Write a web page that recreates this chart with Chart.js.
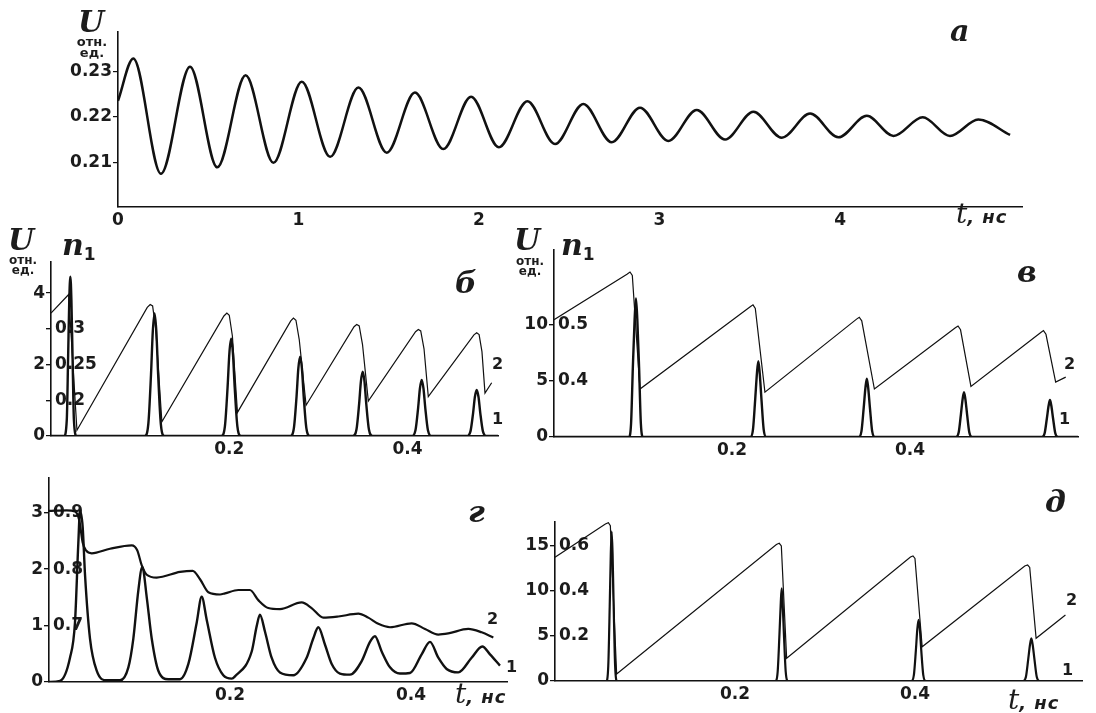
<!DOCTYPE html>
<html lang="ru">
<head>
<meta charset="UTF-8">
<title>U(t), n1(t)</title>
<script src="https://cdn.jsdelivr.net/npm/chart.js@4.4.1/dist/chart.umd.min.js"></script>
<style>
    body { margin: 0; width: 1096px; height: 713px; position: relative; overflow: hidden; background: #fff; color: #1c1c1c; }
    canvas { position: absolute; }
    .lbl { position: absolute; line-height: 1; white-space: nowrap; }
    .sym { font-family: "DejaVu Serif", serif; font-style: italic; font-weight: bold; font-size: 30px; }
    .letter { font-family: "DejaVu Serif", serif; font-style: italic; font-weight: bold; font-size: 30px; }
    .num { font-family: "DejaVu Sans", sans-serif; font-weight: bold; font-size: 16px; }
    .sub { font-family: "DejaVu Sans", sans-serif; font-weight: bold; font-size: 17px; position: relative; top: 5px; font-style: normal; }
    .unit { position: absolute; width: 44px; text-align: center; font: bold 12px "DejaVu Sans", sans-serif; line-height: 10px; }
    .tt { font-family: "DejaVu Serif", serif; font-style: italic; font-size: 28px; }
    .tu { font-family: "DejaVu Sans", sans-serif; font-style: italic; font-weight: bold; font-size: 18px; letter-spacing: 1px; }
</style>
</head>
<body>
<canvas id="chart-a"></canvas>
<canvas id="chart-b"></canvas>
<canvas id="chart-v"></canvas>
<canvas id="chart-g"></canvas>
<canvas id="chart-d"></canvas>

<!-- panel а -->
<div class="lbl sym" style="left:78px; top:7px;">U</div>
<div class="unit" style="left:70px; top:36px; font-size:13px; line-height:11px;">отн.<br>ед.</div>
<div class="lbl letter" style="left:950px; top:16px;">а</div>
<div class="lbl" style="left:956px; top:200px;"><span class="tt">t</span><span class="tu">, нс</span></div>

<!-- panel б -->
<div class="lbl sym" style="left:8px; top:225px;">U</div>
<div class="lbl sym" style="left:62px; top:230px;">n<span class="sub">1</span></div>
<div class="unit" style="left:1px; top:255px;">отн.<br>ед.</div>
<div class="lbl letter" style="left:455px; top:268px;">б</div>
<div class="lbl num" style="left:492px; top:356px;">2</div>
<div class="lbl num" style="left:492px; top:411px;">1</div>

<!-- panel в -->
<div class="lbl sym" style="left:514px; top:225px;">U</div>
<div class="lbl sym" style="left:561px; top:230px;">n<span class="sub">1</span></div>
<div class="unit" style="left:508px; top:256px;">отн.<br>ед.</div>
<div class="lbl letter" style="left:1017px; top:257px;">в</div>
<div class="lbl num" style="left:1064px; top:356px;">2</div>
<div class="lbl num" style="left:1059px; top:411px;">1</div>

<!-- panel г -->
<div class="lbl letter" style="left:468px; top:497px;">г</div>
<div class="lbl num" style="left:487px; top:611px;">2</div>
<div class="lbl num" style="left:506px; top:659px;">1</div>
<div class="lbl" style="left:455px; top:680px;"><span class="tt">t</span><span class="tu">, нс</span></div>

<!-- panel д -->
<div class="lbl letter" style="left:1045px; top:487px;">д</div>
<div class="lbl num" style="left:1066px; top:592px;">2</div>
<div class="lbl num" style="left:1062px; top:662px;">1</div>
<div class="lbl" style="left:1008px; top:686px;"><span class="tt">t</span><span class="tu">, нс</span></div>

<script>
    // ---- panel а: U(t), damped oscillation (peaks and troughs)
    const aT = [0, 0.085, 0.238, 0.399, 0.550, 0.707, 0.861, 1.018, 1.175, 1.332, 1.489, 1.645, 1.802, 1.956, 2.110, 2.268, 2.421,
                2.578, 2.735, 2.892, 3.049, 3.206, 3.363, 3.520, 3.677, 3.834, 3.991, 4.148, 4.296, 4.458, 4.609, 4.766, 4.942];
    const aU = [0.2235, 0.2328, 0.2075, 0.2310, 0.2089, 0.2291, 0.2099, 0.2277, 0.2112, 0.2264, 0.2121, 0.2253, 0.2129, 0.2244, 0.2133,
                0.2234, 0.2140, 0.2228, 0.2144, 0.2220, 0.2147, 0.2215, 0.2150, 0.2211, 0.2154, 0.2207, 0.2155, 0.2202, 0.2158, 0.2199,
                0.2158, 0.2194, 0.2160];
    const aXTicks = [0, 1, 2, 3, 4];
    const aXLabels = ['0', '1', '2', '3', '4'];
    const aUTicks = [0.21, 0.22, 0.23];
    const aULabels = ['0.21', '0.22', '0.23'];

    // ---- panel б: pulses U (curve 1) and inversion n1 (curve 2)
    const bPulseT = [0,
        0.0147, 0.0177, 0.0192, 0.0205, 0.0217, 0.0229, 0.0242, 0.0257, 0.0287,
        0.1052, 0.1092, 0.1122, 0.1142, 0.1162, 0.1182, 0.1202, 0.1232, 0.1272,
        0.1911, 0.1951, 0.1981, 0.2001, 0.2021, 0.2041, 0.2061, 0.2091, 0.2131,
        0.2685, 0.2725, 0.2755, 0.2775, 0.2795, 0.2815, 0.2835, 0.2865, 0.2905,
        0.3387, 0.3427, 0.3457, 0.3477, 0.3497, 0.3517, 0.3537, 0.3567, 0.3607,
        0.4049, 0.4089, 0.4119, 0.4139, 0.4159, 0.4179, 0.4199, 0.4229, 0.4269,
        0.4666, 0.4706, 0.4736, 0.4756, 0.4776, 0.4796, 0.4816, 0.4846, 0.4886,
        0.5015];
    const bPulseU = [0,
        0, 0.45, 2.2, 3.8, 4.46, 3.8, 2.2, 0.45, 0,
        0, 0.34, 1.72, 2.92, 3.43, 2.92, 1.72, 0.34, 0,
        0, 0.27, 1.36, 2.31, 2.72, 2.31, 1.36, 0.27, 0,
        0, 0.22, 1.11, 1.89, 2.22, 1.89, 1.11, 0.22, 0,
        0, 0.18, 0.9, 1.53, 1.8, 1.53, 0.9, 0.18, 0,
        0, 0.16, 0.79, 1.33, 1.57, 1.33, 0.79, 0.16, 0,
        0, 0.13, 0.65, 1.1, 1.29, 1.1, 0.65, 0.13, 0,
        0];
    const bInvT = [0, 0.0198, 0.0291, 0.108, 0.1113, 0.1140, 0.1175, 0.1244, 0.194, 0.1973, 0.2000, 0.2035, 0.2092,
                   0.269, 0.272, 0.2748, 0.2785, 0.2862, 0.340, 0.343, 0.3458, 0.3495, 0.356, 0.409, 0.4121, 0.4148, 0.4185, 0.4233,
                   0.4745, 0.4776, 0.4803, 0.4835, 0.4869, 0.4944];
    const bInvN = [0.322, 0.348, 0.158, 0.330, 0.334, 0.332, 0.300, 0.170, 0.318, 0.322, 0.319, 0.290, 0.183,
                   0.311, 0.315, 0.312, 0.285, 0.193, 0.303, 0.306, 0.304, 0.278, 0.199, 0.296, 0.299, 0.297, 0.272, 0.205,
                   0.2915, 0.2945, 0.292, 0.268, 0.210, 0.2245];
    const bUTicks = [0, 1, 2, 3, 4];
    const bULabels = ['0', '', '2', '', '4'];
    const bNTicks = [0.2, 0.25, 0.3];
    const bNLabels = ['0.2', '0.25', '0.3'];

    // ---- panel в
    const vPulseT = [0,
        0.0841, 0.0866, 0.0886, 0.0906, 0.0921, 0.0936, 0.0956, 0.0976, 0.1001,
        0.2206, 0.2236, 0.2261, 0.2281, 0.2296, 0.2311, 0.2331, 0.2356, 0.2386,
        0.3425, 0.3455, 0.3480, 0.3500, 0.3515, 0.3530, 0.3550, 0.3575, 0.3605,
        0.4517, 0.4547, 0.4572, 0.4592, 0.4607, 0.4622, 0.4642, 0.4667, 0.4697,
        0.5483, 0.5513, 0.5538, 0.5558, 0.5573, 0.5588, 0.5608, 0.5633, 0.5663,
        0.589];
    const vPulseU = [0,
        0, 1.2, 6.2, 10.5, 12.35, 10.5, 6.2, 1.2, 0,
        0, 0.68, 3.38, 5.74, 6.75, 5.74, 3.38, 0.68, 0,
        0, 0.52, 2.6, 4.42, 5.2, 4.42, 2.6, 0.52, 0,
        0, 0.4, 2.0, 3.4, 4.0, 3.4, 2.0, 0.4, 0,
        0, 0.33, 1.65, 2.8, 3.3, 2.8, 1.65, 0.33, 0,
        0];
    const vInvT = [0, 0.082, 0.0854, 0.0880, 0.0966, 0.2205, 0.2236, 0.2262, 0.237, 0.340, 0.343, 0.3458, 0.360,
                   0.451, 0.454, 0.4568, 0.4685, 0.547, 0.550, 0.5528, 0.5637, 0.575];
    const vInvN = [0.509, 0.590, 0.594, 0.588, 0.3855, 0.532, 0.5355, 0.529, 0.380, 0.510, 0.5133, 0.507, 0.3855,
                   0.4945, 0.4978, 0.491, 0.390, 0.486, 0.4895, 0.483, 0.3978, 0.4067];
    const vUTicks = [0, 5, 10];
    const vULabels = ['0', '5', '10'];
    const vNTicks = [0.4, 0.5];
    const vNLabels = ['0.4', '0.5'];

    // ---- panel г
    const gPulseT = [0, 0.0122, 0.0232, 0.0287, 0.0324, 0.0343, 0.0372, 0.0398, 0.0453, 0.0527, 0.0637, 0.0785, 0.0877, 0.0932,
                     0.0987, 0.1031, 0.108, 0.1135, 0.1208, 0.1318, 0.1448, 0.154, 0.1632, 0.1687, 0.1743, 0.1834, 0.1926, 0.2019,
                     0.2055, 0.224, 0.2295, 0.2331, 0.2387, 0.246, 0.2552, 0.27, 0.2847, 0.292, 0.2976, 0.305, 0.3124, 0.3215,
                     0.3326, 0.3455, 0.3547, 0.3602, 0.3676, 0.3768, 0.3878, 0.3989, 0.4118, 0.421, 0.4302, 0.4394, 0.4523,
                     0.467, 0.4788, 0.4873, 0.4983];
    const gPulseU = [0, 0.02, 0.43, 1.05, 2.46, 3.03, 2.75, 1.9, 0.77, 0.2, 0.03, 0.03, 0.26, 0.77,
                     1.62, 2.04, 1.5, 0.77, 0.2, 0.05, 0.05, 0.32, 1.05, 1.51, 1.1, 0.43, 0.12, 0.06,
                     0.1, 0.54, 0.99, 1.19, 0.89, 0.43, 0.17, 0.12, 0.43, 0.77, 0.97, 0.66, 0.32, 0.15,
                     0.13, 0.37, 0.71, 0.81, 0.54, 0.26, 0.15, 0.16, 0.49, 0.71, 0.43, 0.23, 0.17,
                     0.43, 0.63, 0.49, 0.29];
    const gInvT = [0, 0.0196, 0.0287, 0.0335, 0.0372, 0.0409, 0.0472, 0.0674, 0.0914, 0.0976, 0.1024, 0.108, 0.119, 0.1448,
                   0.1588, 0.1669, 0.1761, 0.189, 0.1945, 0.2092, 0.222, 0.2313, 0.2423, 0.2552, 0.2792, 0.2902, 0.3031,
                   0.3197, 0.3418, 0.3528, 0.3639, 0.3768, 0.4007, 0.4155, 0.4302, 0.4412, 0.4633, 0.4781, 0.491];
    const gInvN = [0.903, 0.904, 0.902, 0.886, 0.847, 0.833, 0.828, 0.836, 0.842, 0.833, 0.807, 0.790, 0.785, 0.795,
                   0.797, 0.782, 0.759, 0.755, 0.757, 0.763, 0.763, 0.745, 0.731, 0.729, 0.741, 0.731, 0.714,
                   0.716, 0.721, 0.714, 0.703, 0.697, 0.704, 0.694, 0.684, 0.686, 0.694, 0.688, 0.679];
    const gUTicks = [0, 1, 2, 3];
    const gULabels = ['0', '1', '2', '3'];
    const gNTicks = [0.7, 0.8, 0.9];
    const gNLabels = ['0.7', '0.8', '0.9'];

    // ---- panel д
    const dPulseT = [0.011,
        0.0570, 0.0592, 0.0608, 0.0620, 0.0630, 0.0640, 0.0652, 0.0668, 0.0690,
        0.2449, 0.2474, 0.2494, 0.2509, 0.2519, 0.2529, 0.2544, 0.2564, 0.2589,
        0.3960, 0.3988, 0.4010, 0.4026, 0.4040, 0.4054, 0.4070, 0.4092, 0.4120,
        0.5203, 0.5233, 0.5258, 0.5278, 0.5293, 0.5308, 0.5328, 0.5353, 0.5383,
        0.5856];
    const dPulseU = [0,
        0, 1.7, 8.3, 14.1, 16.6, 14.1, 8.3, 1.7, 0,
        0, 1.0, 5.15, 8.75, 10.3, 8.75, 5.15, 1.0, 0,
        0, 0.68, 3.4, 5.78, 6.8, 5.78, 3.4, 0.68, 0,
        0, 0.47, 2.37, 4.03, 4.74, 4.03, 2.37, 0.47, 0,
        0];
    const dInvT = [0, 0.056, 0.0593, 0.0615, 0.0685, 0.246, 0.2492, 0.2515, 0.2574, 0.395, 0.3978, 0.400, 0.408,
                   0.522, 0.5252, 0.5275, 0.5346, 0.5672];
    const dInvN = [0.55, 0.698, 0.7036, 0.69, 0.031, 0.607, 0.612, 0.60, 0.101, 0.551, 0.556, 0.545, 0.152,
                   0.511, 0.5156, 0.505, 0.19, 0.293];
    const dUTicks = [0, 5, 10, 15];
    const dULabels = ['0', '5', '10', '15'];
    const dNTicks = [0.2, 0.4, 0.6];
    const dNLabels = ['0.2', '0.4', '0.6'];

    // x ticks shared by the four lower panels
    const nsTicks = [0.2, 0.4];
    const nsLabels = ['0.2', '0.4'];

    const ink = '#1c1c1c';
    const tickFont = { family: 'DejaVu Sans', weight: 'bold', size: 17 };

    function pts(xs, ys) {
        return xs.map((x, i) => ({ x: x, y: ys[i] }));
    }

    function curve(xs, ys, axis, width, smooth) {
        return {
            data: pts(xs, ys),
            yAxisID: axis,
            borderColor: '#111',
            borderWidth: width,
            pointRadius: 0,
            fill: false,
            tension: 0,
            cubicInterpolationMode: smooth ? 'monotone' : 'default'
        };
    }

    // every panel is its own chart; box = canvas rect, area = wanted plot area (page px)
    function makePanel(p) {
        const cv = document.getElementById(p.id);
        cv.width = p.box.w;
        cv.height = p.box.h;
        cv.style.left = p.box.x + 'px';
        cv.style.top = p.box.y + 'px';

        const scales = {
            x: {
                type: 'linear', min: p.x.min, max: p.x.max,
                afterBuildTicks: s => { s.ticks = p.x.ticks.map(v => ({ value: v })); },
                afterFit: s => { s.height = p.box.y + p.box.h - p.area.b; },
                ticks: { callback: (v, i) => p.x.labels[i], font: tickFont, color: ink, padding: 3, autoSkip: false, maxRotation: 0 },
                grid: { display: false, drawTicks: false },
                border: { display: true, color: '#111', width: 1.6 }
            },
            u: {
                type: 'linear', axis: 'y', position: 'left', weight: 1, min: p.u.min, max: p.u.max,
                afterBuildTicks: s => { s.ticks = p.u.ticks.map(v => ({ value: v })); },
                afterFit: s => { s.width = p.area.l - p.box.x; },
                ticks: { callback: (v, i) => p.u.labels[i], font: tickFont, color: ink, padding: 1, autoSkip: false },
                grid: { drawOnChartArea: false, tickLength: 5, color: '#111', lineWidth: 1.2 },
                border: { display: true, color: '#111', width: 1.6 }
            }
        };
        if (p.n) {
            // n1 scale sits on the same axis line, labels inside the plot
            scales.n = {
                type: 'linear', axis: 'y', position: 'left', weight: 0, min: p.n.min, max: p.n.max,
                afterBuildTicks: s => { s.ticks = p.n.ticks.map(v => ({ value: v })); },
                afterFit: s => { s.width = 0; },
                ticks: { callback: (v, i) => p.n.labels[i], font: tickFont, color: ink, padding: 4, mirror: true, autoSkip: false },
                grid: { drawOnChartArea: false, tickLength: 5, color: '#111', lineWidth: 1.2 },
                border: { display: false }
            };
        }

        return new Chart(cv, {
            type: 'line',
            data: { datasets: p.datasets },
            options: {
                responsive: false,
                animation: false,
                layout: {
                    autoPadding: false,
                    padding: { left: 0, top: p.area.t - p.box.y, right: p.box.x + p.box.w - p.area.r, bottom: 0 }
                },
                plugins: { legend: { display: false }, tooltip: { enabled: false } },
                scales: scales
            }
        });
    }

    makePanel({
        id: 'chart-a',
        box: { x: 0, y: 0, w: 1096, h: 232 }, area: { l: 118, t: 32, r: 1022, b: 207 },
        x: { min: 0, max: 5.008, ticks: aXTicks, labels: aXLabels },
        u: { min: 0.2002, max: 0.2386, ticks: aUTicks, labels: aULabels },
        datasets: [curve(aT, aU, 'u', 2.5, true)]
    });

    makePanel({
        id: 'chart-b',
        box: { x: 0, y: 236, w: 540, h: 228 }, area: { l: 51, t: 262, r: 498, b: 436 },
        x: { min: 0, max: 0.5015, ticks: nsTicks, labels: nsLabels },
        u: { min: 0, max: 4.87, ticks: bUTicks, labels: bULabels },
        n: { min: 0.15, max: 0.3935, ticks: bNTicks, labels: bNLabels },
        datasets: [curve(bPulseT, bPulseU, 'u', 2.4, true), curve(bInvT, bInvN, 'n', 1.2, false)]
    });

    makePanel({
        id: 'chart-v',
        box: { x: 500, y: 236, w: 596, h: 228 }, area: { l: 554, t: 239, r: 1078, b: 437 },
        x: { min: 0, max: 0.5888, ticks: nsTicks, labels: nsLabels },
        u: { min: 0, max: 16.64, ticks: vUTicks, labels: vULabels },
        n: { min: 0.3, max: 0.6328, ticks: vNTicks, labels: vNLabels },
        datasets: [curve(vPulseT, vPulseU, 'u', 2.4, true), curve(vInvT, vInvN, 'n', 1.2, false)]
    });

    makePanel({
        id: 'chart-g',
        box: { x: 0, y: 464, w: 540, h: 249 }, area: { l: 49, t: 469, r: 507, b: 682 },
        x: { min: 0, max: 0.5061, ticks: nsTicks, labels: nsLabels },
        u: { min: 0, max: 3.61, ticks: gUTicks, labels: gULabels },
        n: { min: 0.6, max: 0.961, ticks: gNTicks, labels: gNLabels },
        datasets: [curve(gPulseT, gPulseU, 'u', 2.4, true), curve(gInvT, gInvN, 'n', 2.2, true)]
    });

    makePanel({
        id: 'chart-d',
        box: { x: 520, y: 464, w: 576, h: 249 }, area: { l: 555, t: 522, r: 1082, b: 681 },
        x: { min: 0, max: 0.5856, ticks: nsTicks, labels: nsLabels },
        u: { min: 0, max: 17.67, ticks: dUTicks, labels: dULabels },
        n: { min: 0, max: 0.7067, ticks: dNTicks, labels: dNLabels },
        datasets: [curve(dPulseT, dPulseU, 'u', 2.2, true), curve(dInvT, dInvN, 'n', 1.2, false)]
    });
</script>
</body>
</html>
